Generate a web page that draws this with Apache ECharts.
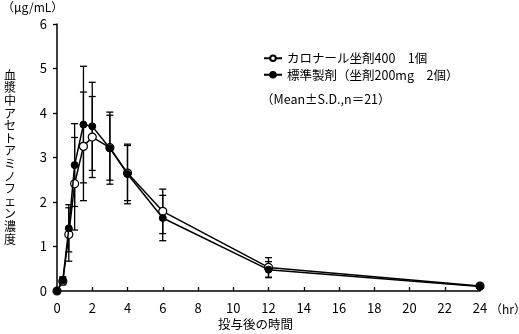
<!DOCTYPE html>
<html><head><meta charset="utf-8">
<script src="https://cdn.jsdelivr.net/npm/echarts@6/dist/echarts.min.js"></script>
<style>html,body{margin:0;padding:0;background:#fff}#c{width:519px;height:334px}</style>
</head><body><div id="c"></div>
<script>
const times = [0, 0.33, 0.67, 1, 1.5, 2, 3, 4, 6, 12, 24];
const testMean = [0, 0.22, 1.27, 2.41, 3.25, 3.46, 3.22, 2.65, 1.79, 0.53, 0.11];
const testSD   = [0, 0.08, 0.60, 1.04, 1.22, 0.91, 0.73, 0.62, 0.50, 0.22, 0.04];
const refMean  = [0, 0.24, 1.41, 2.83, 3.74, 3.70, 3.21, 2.63, 1.64, 0.48, 0.10];
const refSD    = [0, 0.08, 0.53, 0.93, 1.31, 0.99, 0.81, 0.67, 0.51, 0.18, 0.04];
const xTicks = [0,2,4,6,8,10,12,14,16,18,20,22,24];
const yTicks = [0,1,2,3,4,5,6];
const testName = 'カロナール坐剤400　1個';
const refName = '標準製剤（坐剤200mg　2個）';
const FONT = '"Noto Sans CJK JP", "Noto Sans", sans-serif';

function errData(mean, sd){ return times.map((t,i)=>[t, mean[i]-sd[i], mean[i]+sd[i]]); }
function errRender(params, api){
  const x = api.value(0);
  const lo = api.coord([x, api.value(1)]);
  const hi = api.coord([x, api.value(2)]);
  const w = 3.5;
  const st = {stroke:'#000', lineWidth:1.3};
  return {type:'group', children:[
    {type:'line', shape:{x1:lo[0],y1:lo[1],x2:hi[0],y2:hi[1]}, style:st},
    {type:'line', shape:{x1:lo[0]-w,y1:lo[1],x2:lo[0]+w,y2:lo[1]}, style:st},
    {type:'line', shape:{x1:hi[0]-w,y1:hi[1],x2:hi[0]+w,y2:hi[1]}, style:st}
  ]};
}
const chart = echarts.init(document.getElementById('c'), null, {renderer:'canvas'});
chart.setOption({
  animation:false,
  textStyle:{fontFamily:FONT, color:'#000'},
  grid:{left:57, right:39, top:24, bottom:43, containLabel:false},
  xAxis:{type:'value', min:0, max:24, interval:2,
    axisLine:{lineStyle:{color:'#000', width:1.5}},
    axisTick:{inside:true, length:4, lineStyle:{color:'#000', width:1.3}},
    axisLabel:{color:'#000', fontSize:13, margin:11, fontFamily:FONT,
      customValues: xTicks},
    splitLine:{show:false}},
  yAxis:{type:'value', min:0, max:6, interval:1,
    axisLine:{show:true, lineStyle:{color:'#000', width:1.5}},
    axisTick:{show:true, inside:false, length:4, lineStyle:{color:'#000', width:1.3}},
    axisLabel:{color:'#000', fontSize:13, margin:10, fontFamily:FONT, customValues: yTicks},
    splitLine:{show:false}},
  legend:{orient:'vertical', left:258, top:47, itemGap:4, itemWidth:18, itemHeight:7,
    textStyle:{fontSize:12.5, color:'#000', fontFamily:FONT},
    data:[testName, refName]},
  series:[
    {type:'custom', renderItem:errRender, data:errData(refMean, refSD), z:1, silent:true},
    {type:'custom', renderItem:errRender, data:errData(testMean, testSD), z:1, silent:true},
    {name:testName, type:'line', data:times.map((t,i)=>[t, testMean[i]]),
      symbol:'circle', symbolSize:8, z:3,
      lineStyle:{color:'#000', width:1.5}, itemStyle:{color:'#fff', borderColor:'#000', borderWidth:1.2}},
    {name:refName, type:'line', data:times.map((t,i)=>[t, refMean[i]]),
      symbol:'circle', symbolSize:7, z:4,
      lineStyle:{color:'#000', width:1.5}, itemStyle:{color:'#000', borderColor:'#000', borderWidth:1}}
  ],
  graphic:[
    {type:'text', left:2, top:1, style:{text:'（μg/mL）', fontSize:12, fill:'#000', fontFamily:FONT}},
    {type:'text', left:4, top:69, style:{text:'血漿中アセトアミノフェン濃度'.split('').join('\n'), fontSize:12, lineHeight:12.6, fill:'#000', fontFamily:FONT}},
    {type:'text', left:261, top:93, style:{text:'（Mean±S.D.,n＝21）', fontSize:12.5, fill:'#000', fontFamily:FONT}},
    {type:'text', left:490, top:303, style:{text:'（hr）', fontSize:12, fill:'#000', fontFamily:FONT}},
    {type:'text', left:218, top:318, style:{text:'投与後の時間', fontSize:12.5, fill:'#000', fontFamily:FONT}}
  ]
});
</script></body></html>
